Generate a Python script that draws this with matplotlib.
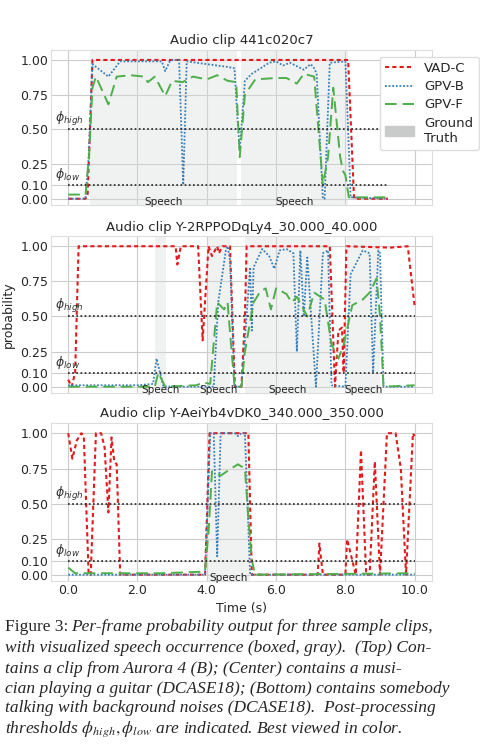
import matplotlib
matplotlib.use("Agg")
import matplotlib.pyplot as plt
import seaborn as sns
from matplotlib.patches import Patch
from matplotlib.lines import Line2D

sns.set_style("whitegrid")
plt.rcParams['font.family'] = ['DejaVu Sans']

titles = ["Audio clip 441c020c7", "Audio clip Y-2RPPODqLy4_30.000_40.000",
          "Audio clip Y-AeiYb4vDK0_340.000_350.000"]
yticks = [0.0, 0.10, 0.25, 0.50, 0.75, 1.00]
xticks = [0, 2, 4, 6, 8, 10]
clip_end = [9.23, 10.0, 10.0]

gt = [[(0.63, 4.86), (5.0, 8.07)],
      [(2.5, 2.83), (4.03, 4.67), (5.1, 7.55), (8.04, 9.0)],
      [(4.0, 5.24)]]

# panel 1
p1_vad_t = [0.0, 0.5, 0.56, 0.70, 8.08, 8.25, 9.23]
p1_vad_v = [0.0, 0.0, 0.02, 1.0, 1.0, 0.0, 0.0]
p1_gpvb_t = [0.0, 0.5, 0.59, 0.7, 1.16, 1.5, 2.7, 2.8, 2.95, 3.2, 3.32, 3.42, 4.0, 4.6, 4.8, 4.88, 4.95,
             5.1, 5.3, 5.8, 6.0, 6.2, 6.4, 6.8, 7.0, 7.1, 7.17, 7.25, 7.35, 7.4, 7.55, 8.0, 8.08, 8.15, 9.23]
p1_gpvb_v = [0.0, 0.0, 0.3, 0.97, 0.88, 0.99, 0.99, 0.92, 1.0, 1.0, 0.1, 0.99, 0.97, 0.95, 0.94, 0.6, 0.35,
             0.85, 0.9, 0.98, 0.99, 0.96, 0.98, 0.93, 0.97, 0.94, 0.9, 0.5, 0.0, 0.0, 0.98, 0.99, 0.5, 0.01, 0.0]
p1_gpvf_t = [0.0, 0.5, 0.6, 0.7, 0.8, 1.16, 1.4, 1.8, 2.2, 2.3, 2.5, 2.8, 3.0, 3.3, 3.6, 4.0, 4.3, 4.6, 4.85,
             4.95, 5.1, 5.4, 6.0, 6.3, 6.6, 6.8, 7.1, 7.35, 7.5, 7.65, 7.85, 7.93, 8.0, 8.1, 9.23]
p1_gpvf_v = [0.03, 0.03, 0.3, 0.8, 0.88, 0.68, 0.88, 0.89, 0.88, 0.84, 0.88, 0.74, 0.85, 0.84, 0.88, 0.86,
             0.89, 0.85, 0.84, 0.3, 0.75, 0.86, 0.87, 0.87, 0.83, 0.9, 0.88, 0.1, 0.3, 0.8, 0.3, 0.2, 0.17,
             0.01, 0.01]

# panel 2
p2_vad_t = [0.0, 0.1, 0.2, 0.3, 3.1, 3.15, 3.25, 3.75, 3.88, 4.05, 4.15, 4.3, 4.35, 4.45, 4.67, 4.81, 5.0,
            5.1, 5.15, 7.55, 7.7, 7.8, 7.9, 7.95, 8.03, 9.3, 9.8, 10.0]
p2_vad_v = [0.05, 0.0, 0.1, 1.0, 1.0, 0.87, 1.0, 1.0, 0.33, 1.0, 0.93, 1.0, 0.95, 1.0, 1.0, 0.0, 0.0,
            0.5, 1.0, 1.0, 0.0, 0.4, 0.42, 0.1, 1.0, 0.99, 1.0, 0.57]
p2_gpvb_t = [0.0, 2.0, 2.45, 2.55, 2.75, 4.2, 4.33, 4.55, 4.6, 4.67, 4.8, 5.0, 5.25, 5.3, 5.35, 5.6, 5.8,
             5.95, 6.1, 6.3, 6.5, 6.6, 6.7, 6.8, 6.9, 7.15, 7.35, 7.5, 7.6, 8.0, 8.15, 8.5, 8.7, 8.8, 8.95,
             9.0, 9.1, 10.0]
p2_gpvb_v = [0.01, 0.01, 0.02, 0.2, 0.0, 0.0, 0.6, 0.97, 1.0, 0.9, 0.0, 0.0, 0.85, 0.4, 0.85, 0.98, 0.93,
             0.84, 0.97, 0.98, 0.95, 0.25, 0.97, 0.5, 0.92, 0.0, 0.95, 0.97, 0.01, 0.0, 0.8, 0.97, 0.95, 0.1,
             0.97, 0.95, 0.0, 0.0]
p2_gpvf_t = [0.0, 2.5, 2.6, 2.8, 3.7, 3.9, 4.1, 4.3, 4.5, 4.6, 4.8, 5.0, 5.1, 5.35, 5.55, 5.7, 5.85, 6.0,
             6.3, 6.45, 6.6, 6.9, 7.1, 7.4, 7.6, 7.8, 7.95, 8.2, 8.5, 8.7, 8.9, 9.0, 9.1, 10.0]
p2_gpvf_v = [0.0, 0.0, 0.1, 0.0, 0.01, 0.03, 0.02, 0.6, 0.55, 0.6, 0.0, 0.0, 0.25, 0.6, 0.68, 0.7, 0.55,
             0.7, 0.66, 0.6, 0.64, 0.5, 0.67, 0.62, 0.3, 0.2, 0.3, 0.58, 0.62, 0.67, 0.77, 0.5, 0.0, 0.01]

# panel 3
p3_vad_t = [0.0, 0.12, 0.25, 0.38, 0.45, 0.59, 0.65, 0.8, 0.95, 1.05, 1.16, 1.25, 1.33, 1.4, 1.5, 3.95,
            4.08, 5.2, 5.3, 7.2, 7.25, 7.35, 8.0, 8.05, 8.2, 8.3, 8.45, 8.6, 8.7, 8.85, 9.0, 9.2, 9.45,
            9.6, 9.75, 9.95, 10.0]
p3_vad_v = [1.0, 0.82, 0.95, 1.0, 0.98, 0.0, 0.0, 1.0, 1.0, 0.9, 0.44, 0.97, 0.8, 0.78, 0.0, 0.0,
            1.0, 1.0, 0.0, 0.0, 0.22, 0.0, 0.0, 0.25, 0.1, 0.0, 0.88, 0.0, 0.0, 0.8, 0.0, 1.0, 1.0,
            0.75, 0.0, 1.0, 0.98]
p3_gpvb_t = [0.0, 3.95, 4.1, 4.2, 4.3, 4.4, 4.8, 4.9, 5.0, 5.1, 5.25, 10.0]
p3_gpvb_v = [0.0, 0.0, 1.0, 1.0, 0.13, 1.0, 1.0, 0.98, 1.0, 1.0, 0.0, 0.0]
p3_gpvf_t = [0.0, 0.2, 2.7, 3.8, 3.95, 4.05, 4.15, 4.4, 4.7, 4.9, 5.1, 5.2, 5.3, 5.4, 10.0]
p3_gpvf_v = [0.05, 0.01, 0.01, 0.02, 0.03, 0.3, 0.73, 0.7, 0.75, 0.78, 0.75, 0.4, 0.1, 0.0, 0.01]

series = [
    [(p1_vad_t, p1_vad_v), (p1_gpvb_t, p1_gpvb_v), (p1_gpvf_t, p1_gpvf_v)],
    [(p2_vad_t, p2_vad_v), (p2_gpvb_t, p2_gpvb_v), (p2_gpvf_t, p2_gpvf_v)],
    [(p3_vad_t, p3_vad_v), (p3_gpvb_t, p3_gpvb_v), (p3_gpvf_t, p3_gpvf_v)],
]
names = ["VAD-C", "GPV-B", "GPV-F"]
colors = ["#e41a1c", "#377eb8", "#4daf4a"]
styles = [dict(ls=(0, (2, 1.5)), lw=1.5), dict(ls=(0, (1, 1)), lw=1.3), dict(ls=(0, (6, 3)), lw=1.4)]

fig = plt.figure(figsize=(4.8, 7.47), dpi=100)
boxes = [(0.106, 0.7256, 0.794, 0.2075), (0.106, 0.4739, 0.794, 0.210), (0.106, 0.2222, 0.794, 0.2115)]
for i in range(3):
    ax = fig.add_axes(boxes[i])
    for (a, b) in gt[i]:
        ax.axvspan(a, b, ymin=0.0, ymax=1.0, color="#d5d9d7", alpha=0.35, lw=0)
        ax.text((a + b) / 2, -0.025, "Speech", ha="center", va="center", fontsize=7.5, color="#222222")
    for k in range(3):
        t, v = series[i][k]
        ax.plot(t, v, color=colors[k], **styles[k])
    for th, lab in [(0.5, r"$\phi_{high}$"), (0.1, r"$\phi_{low}$")]:
        ax.plot([0, clip_end[i]], [th, th], color="#222222", ls=(0, (1, 1.5)), lw=1.2)
        ax.text(-0.38, th + 0.01, lab, ha="left", va="bottom", fontsize=9, color="#333333")
    ax.set_xlim(-0.5, 10.5)
    ax.set_ylim(-0.045, 1.072)
    ax.set_yticks(yticks)
    ax.set_yticklabels([f"{y:.2f}" for y in yticks], fontsize=9)
    ax.set_xticks(xticks)
    if i == 2:
        ax.set_xticklabels([f"{x:.1f}" for x in xticks], fontsize=9)
        ax.set_xlabel("Time (s)", fontsize=9)
    else:
        ax.set_xticklabels([])
    if i == 1:
        ax.set_ylabel("probability", fontsize=9)
    ax.set_title(titles[i], fontsize=9.5, pad=4)
    ax.tick_params(length=0, pad=2)
    for s in ax.spines.values():
        s.set_color("#dddddd")
    if i == 0:
        handles = [Line2D([], [], color=colors[k], **styles[k]) for k in range(3)]
        handles.append(Patch(color="#c8cbc9"))
        ax.legend(handles, names + ["Ground\nTruth"], loc="upper left", bbox_to_anchor=(0.845, 1.0),
                  fontsize=9.5, frameon=True, facecolor="white", edgecolor="#dddddd", framealpha=1,
                  handlelength=2.2, borderpad=0.4, labelspacing=0.4)

plt.rcParams['mathtext.fontset'] = 'stix'
cap_lines = [
    "Per-frame probability output for three sample clips,",
    "with visualized speech occurrence (boxed, gray).  (Top) Con-",
    "tains a clip from Aurora 4 (B); (Center) contains a musi-",
    "cian playing a guitar (DCASE18); (Bottom) contains somebody",
    "talking with background noises (DCASE18).  Post-processing",
    r"thresholds $\phi_{high}, \phi_{low}$ are indicated. Best viewed in color.",
]
ys = [627, 648, 669, 689, 708, 729]
for j, (line, y) in enumerate(zip(cap_lines, ys)):
    x0 = 5 / 480
    if j == 0:
        fig.text(x0, 1 - y / 747, "Figure 3:", fontsize=12.5, family="Liberation Serif", va="center")
        fig.text(71 / 480, 1 - y / 747, line, fontsize=12.5, family="Liberation Serif", style="italic", va="center")
    else:
        fig.text(x0, 1 - y / 747, line, fontsize=12.5, family="Liberation Serif", style="italic", va="center")

fig.savefig("out.png", dpi=100)
